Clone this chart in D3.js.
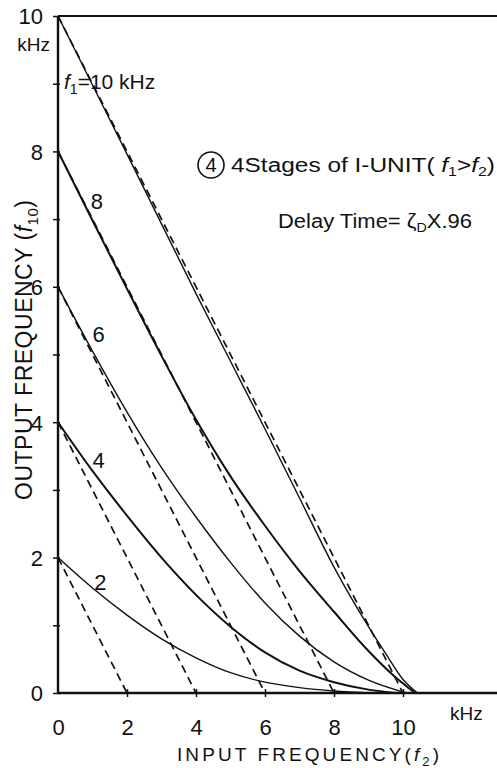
<!DOCTYPE html>
<html>
<head>
<meta charset="utf-8">
<script src="https://cdn.jsdelivr.net/npm/d3@7"></script>
<style>
  body { margin: 0; background: #fff; }
  svg text { font-family: "Liberation Sans", Arial, sans-serif; fill: #111; }
  .solid { fill: none; stroke: #111; stroke-width: 1.4px; }
  .solid.heavy { stroke-width: 2px; }
  .dash { fill: none; stroke: #111; stroke-width: 1.7px; stroke-dasharray: 8,5; }
  .axis path, .axis line { stroke: #111; }
</style>
</head>
<body>
<svg id="chart" width="497" height="768"></svg>
<script>
// f1 values (kHz) of the five families
var f1Values = [2, 4, 6, 8, 10];

var curve2 = [[0,2],[1,1.55],[2,1.15],[3,0.8],[4,0.52],[5,0.3],[6,0.16],[7,0.08],[8,0.03],[9.1,0]];
var curve4 = [[0,4],[1,3.28],[2,2.62],[3,2.0],[4,1.45],[5,0.98],[6,0.6],[7,0.33],[8,0.16],[9,0.05],[9.8,0]];
var curve6 = [[0,6],[1,5.05],[2,4.15],[3,3.33],[4,2.6],[5,1.93],[6,1.33],[7,0.84],[8,0.46],[9,0.19],[10.1,0]];
var curve8 = [[0,8],[1,6.98],[2,5.97],[3,4.98],[4,4.04],[5,3.2],[6,2.47],[7,1.8],[8,1.2],[9,0.62],[9.7,0.27],[10.35,0]];
var curve10 = [[0,10],[1,8.98],[2,7.96],[3,6.93],[4,5.9],[5,4.9],[6,3.9],[7,2.88],[8,1.86],[9,0.98],[9.5,0.58],[10,0.2],[10.42,0]];

// ideal lines f10 = f1 - f2 (dashed), endpoints
var ideal2 = [[0,2],[2,0]];
var ideal4 = [[0,4],[4,0]];
var ideal6 = [[0,6],[6,0]];
var ideal8 = [[0,8],[8,0]];
var ideal10 = [[0,10],[10,0]];

var xTicks = [0, 2, 4, 6, 8, 10];
var yTicks = [0, 1, 2, 3, 4, 5, 6, 7, 8, 9, 10];
var yLabels = [0, 2, 4, 6, 8, 10];

var svg = d3.select("#chart"),
    width = +svg.attr("width");

var x = d3.scaleLinear().domain([0, 10]).range([58, 403]);
var y = d3.scaleLinear().domain([0, 10]).range([693, 16]);

var line = d3.line()
  .x(function(d) { return x(d[0]); })
  .y(function(d) { return y(d[1]); })
  .curve(d3.curveMonotoneX);

var straight = d3.line()
  .x(function(d) { return x(d[0]); })
  .y(function(d) { return y(d[1]); });

// dashed ideal lines
[ideal2, ideal4, ideal6, ideal8, ideal10].forEach(function(d) {
  svg.append("path").attr("class", "dash").attr("d", straight(d));
});

// measured curves
var curves = [curve2, curve4, curve6, curve8, curve10];
curves.forEach(function(d, i) {
  svg.append("path")
    .attr("class", (i == 1 || i == 3) ? "solid heavy" : "solid")
    .attr("d", line(d));
});

// frame: left axis, top line, bottom axis
svg.append("line").attr("x1", x(0)).attr("x2", width).attr("y1", y(10)).attr("y2", y(10))
  .style("stroke", "#111").style("stroke-width", 2.2);
svg.append("line").attr("x1", x(0)).attr("x2", width).attr("y1", y(0)).attr("y2", y(0))
  .style("stroke", "#111").style("stroke-width", 2.6);
svg.append("line").attr("x1", x(0)).attr("x2", x(0)).attr("y1", y(10)).attr("y2", y(0))
  .style("stroke", "#111").style("stroke-width", 2.4);

// y ticks
var yAxis = d3.axisLeft(y).tickValues(yTicks).tickSize(6)
  .tickFormat(function(d) { return yLabels.indexOf(d) >= 0 ? d : ""; })
  .tickPadding(9);
var gy = svg.append("g").attr("class", "axis").attr("transform", "translate(" + x(0) + ",0)").call(yAxis);
gy.select(".domain").remove();
gy.selectAll("line").style("stroke-width", 1.5).attr("x2", 2).attr("x1", -5);
gy.selectAll("text").style("font-size", "22px").attr("dy", "0.36em");

// x ticks
var xAxis = d3.axisBottom(x).tickValues(xTicks).tickSize(4).tickPadding(34);
var gx = svg.append("g").attr("class", "axis").attr("transform", "translate(0," + y(0) + ")").call(xAxis);
gx.select(".domain").remove();
gx.selectAll("line").style("stroke-width", 1.5).attr("y1", -4).attr("y2", 4);
gx.selectAll(".tick").filter(function(d) { return d == 0; }).select("line").remove();
gx.selectAll("text").style("font-size", "22px").attr("dy", "0.2em");

// unit labels
svg.append("text").attr("x", 50).attr("y", 51).attr("text-anchor", "end")
  .style("font-size", "19px").text("kHz");
svg.append("text").attr("x", 450).attr("y", 720)
  .style("font-size", "19px").text("kHz");

// axis titles
var xt = svg.append("text").attr("x", 177).attr("y", 761)
  .attr("textLength", 262).attr("lengthAdjust", "spacing")
  .style("font-size", "19px");
xt.append("tspan").text("INPUT  FREQUENCY(");
xt.append("tspan").style("font-style", "italic").text("f");
xt.append("tspan").attr("dy", 5).style("font-size", "13px").text("2");
xt.append("tspan").attr("dy", -5).text(")");

var yt = svg.append("text").attr("transform", "translate(32,500) rotate(-90)")
  .attr("textLength", 300).attr("lengthAdjust", "spacing")
  .style("font-size", "23px");
yt.append("tspan").text("OUTPUT  FREQUENCY (");
yt.append("tspan").style("font-style", "italic").text("f");
yt.append("tspan").attr("dy", 6).style("font-size", "15px").text("10");
yt.append("tspan").attr("dy", -6).text(")");

// curve labels
var lab = svg.append("text").attr("x", 64).attr("y", 89).style("font-size", "21px");
lab.append("tspan").style("font-style", "italic").text("f");
lab.append("tspan").attr("dy", 5).style("font-size", "14px").text("1");
lab.append("tspan").attr("dy", -5).text("=10 kHz");

var labelPos = [[1.05, 1.52], [1.0, 3.32], [1.0, 5.18], [0.95, 7.15]];
labelPos.forEach(function(p, i) {
  svg.append("text").attr("x", x(p[0])).attr("y", y(p[1]))
    .style("font-size", "22px").text(f1Values[i]);
});

// title block
svg.append("circle").attr("cx", 211).attr("cy", 165).attr("r", 13)
  .style("fill", "none").style("stroke", "#111").style("stroke-width", 1.6);
svg.append("text").attr("x", 211).attr("y", 172).attr("text-anchor", "middle")
  .style("font-size", "20px").text("4");

var t1 = svg.append("text").attr("x", 231).attr("y", 172)
  .attr("textLength", 264).attr("lengthAdjust", "spacingAndGlyphs")
  .style("font-size", "20px");
t1.append("tspan").text("4Stages of I-UNIT( ");
t1.append("tspan").style("font-style", "italic").text("f");
t1.append("tspan").attr("dy", 4).style("font-size", "13px").text("1");
t1.append("tspan").attr("dy", -4).text(">");
t1.append("tspan").style("font-style", "italic").text("f");
t1.append("tspan").attr("dy", 4).style("font-size", "13px").text("2");
t1.append("tspan").attr("dy", -4).text(")");

var t2 = svg.append("text").attr("x", 278).attr("y", 228)
  .attr("textLength", 194).attr("lengthAdjust", "spacingAndGlyphs")
  .style("font-size", "20px");
t2.append("tspan").text("Delay  Time= ");
t2.append("tspan").text("ζ");
t2.append("tspan").attr("dy", 4).style("font-size", "13px").text("D");
t2.append("tspan").attr("dy", -4).text("X.96");
</script>
</body>
</html>
